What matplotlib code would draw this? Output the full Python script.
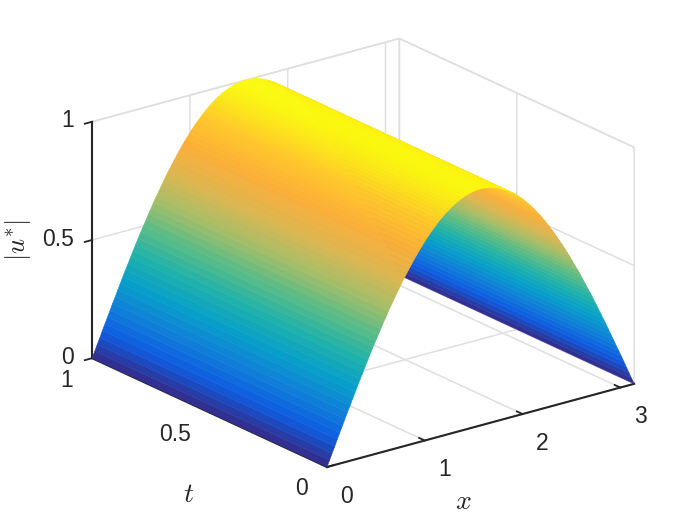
import matplotlib
matplotlib.use("Agg")
import matplotlib.pyplot as plt
import numpy as np
from matplotlib.colors import LinearSegmentedColormap
from mpl_toolkits.mplot3d import proj3d

x_vals = [0, .026, .052, .079, .105, .131, .157, .183, .209, .236, .262, .288, .314, .34, .367,
          .393, .419, .445, .471, .497, .524, .55, .576, .602, .628, .654, .681, .707, .733, .759,
          .785, .812, .838, .864, .89, .916, .942, .969, .995, 1.021, 1.047, 1.073, 1.1, 1.126, 1.152,
          1.178, 1.204, 1.23, 1.257, 1.283, 1.309, 1.335, 1.361, 1.388, 1.414, 1.44, 1.466, 1.492, 1.518, 1.545,
          1.571, 1.597, 1.623, 1.649, 1.676, 1.702, 1.728, 1.754, 1.78, 1.806, 1.833, 1.859, 1.885, 1.911, 1.937,
          1.963, 1.99, 2.016, 2.042, 2.068, 2.094, 2.121, 2.147, 2.173, 2.199, 2.225, 2.251, 2.278, 2.304, 2.33,
          2.356, 2.382, 2.409, 2.435, 2.461, 2.487, 2.513, 2.539, 2.566, 2.592, 2.618, 2.644, 2.67, 2.697, 2.723,
          2.749, 2.775, 2.801, 2.827, 2.854, 2.88, 2.906, 2.932, 2.958, 2.985, 3.011, 3.037, 3.063, 3.089, 3.115, 3.142]
u_vals = [0, .026, .052, .078, .105, .131, .156, .182, .208, .233, .259, .284, .309, .334, .358,
          .383, .407, .431, .454, .477, .5, .522, .545, .566, .588, .609, .629, .649, .669, .688,
          .707, .725, .743, .76, .777, .793, .809, .824, .839, .853, .866, .879, .891, .903, .914,
          .924, .934, .943, .951, .959, .966, .972, .978, .983, .988, .991, .995, .997, .999, 1,
          1, 1, .999, .997, .995, .991, .988, .983, .978, .972, .966, .959, .951, .943, .934,
          .924, .914, .903, .891, .879, .866, .853, .839, .824, .809, .793, .777, .76, .743, .725,
          .707, .688, .669, .649, .629, .609, .588, .566, .545, .522, .5, .477, .454, .431, .407,
          .383, .358, .334, .309, .284, .259, .233, .208, .182, .156, .131, .105, .078, .052, .026, 0]
t_vals = [0, 1]
x_ticks = [0, 1, 2, 3]
x_labels = ["0", "1", "2", "3"]
t_ticks = [0, 0.5, 1]
t_labels = ["0", "0.5", "1"]
z_ticks = [0, 0.5, 1]
z_labels = ["0", "0.5", "1"]
parula_colors = ["#352A87", "#0F5CE0", "#1080D8", "#06A0C8", "#20B2AA", "#5ABC86",
                 "#A6BD68", "#DDB650", "#FBAE38", "#FFC82A", "#FBF90E"]

plt.rcParams["font.family"] = ["Liberation Sans", "DejaVu Sans"]
plt.rcParams["mathtext.fontset"] = "cm"
GRID = "#dfdfdf"
DARK = "#262626"

fig = plt.figure(figsize=(7, 5.25), dpi=100)
ax = fig.add_axes([0, 0, 1, 1], projection="3d", proj_type="ortho")
ax.view_init(elev=20.75, azim=-127.4)
aspect = (1, 1, 0.654)
ax.set_box_aspect(aspect)
ax.set_xlim(0, np.pi, view_margin=0)
ax.set_ylim(0, 1, view_margin=0)
ax.set_zlim(0, 1, view_margin=0)

cmap = LinearSegmentedColormap.from_list("parula_like", parula_colors, N=256)
X, T = np.meshgrid(x_vals, t_vals)
U = np.array([u_vals, u_vals])
U_mid = U.copy()
U_mid[:, :-1] = (U[:, :-1] + U[:, 1:]) / 2
surf = ax.plot_surface(X, T, U, facecolors=cmap(U_mid), rstride=1, cstride=1, shade=False,
                       linewidth=0.4, antialiased=True)
surf.set_clip_on(False)

ax.set_xticks(x_ticks, labels=x_labels, va="center")
ax.set_yticks(t_ticks, labels=t_labels, ha="right", va="center_baseline")
ax.set_zticks(z_ticks, labels=z_labels, ha="right", va="center")
for axis in (ax.xaxis, ax.yaxis, ax.zaxis):
    axis.set_pane_color((1, 1, 1, 1))
    axis.pane.set_edgecolor(GRID)
    axis.pane.set_linewidth(1.1)
    axis.line.set_color(DARK)
    axis.line.set_linewidth(1.5)
    axis._axinfo["grid"].update(color=GRID, linewidth=1.1)
    axis._axinfo["tick"].update(inward_factor=0.0, outward_factor=0.3,
                                linewidth={True: 1.3, False: 0.5})
ax.zaxis._axinfo["tick"].update(inward_factor=0.3, outward_factor=0.0)
ax.tick_params(axis="both", labelsize=16.5, colors=DARK)
ax.tick_params(axis="x", pad=8.6)
ax.tick_params(axis="y", pad=4)
ax.tick_params(axis="z", pad=-1.5)
ax.zaxis.set_ticks_position("upper")

fig.text(463 / 700, 1 - 502 / 525, "$x$", fontsize=20, color=DARK, ha="center", va="center")
fig.text(189 / 700, 1 - 495 / 525, "$t$", fontsize=20, color=DARK, ha="center", va="center")
fig.text(18 / 700, 1 - 240 / 525, "$|u^{*}|$", fontsize=19, color=DARK, ha="center", va="center",
         rotation=90)


def px(p):
    fig.canvas.draw()
    a, b, _ = proj3d.proj_transform(*p, ax.get_proj())
    return ax.transData.transform((a, b))


O = (0, 0, 0)
XE = (np.pi, 0, 0)
TE = (0, 1, 0)
span = px(XE)[0] - px(TE)[0]
ax.set_box_aspect(aspect, zoom=542 / span)
o = px(O)
dx = (327 - o[0]) / 700
dy = ((525 - 467) - o[1]) / 525
ax.set_position([dx, dy, 1, 1])

fig.savefig("out.png", dpi=100)
